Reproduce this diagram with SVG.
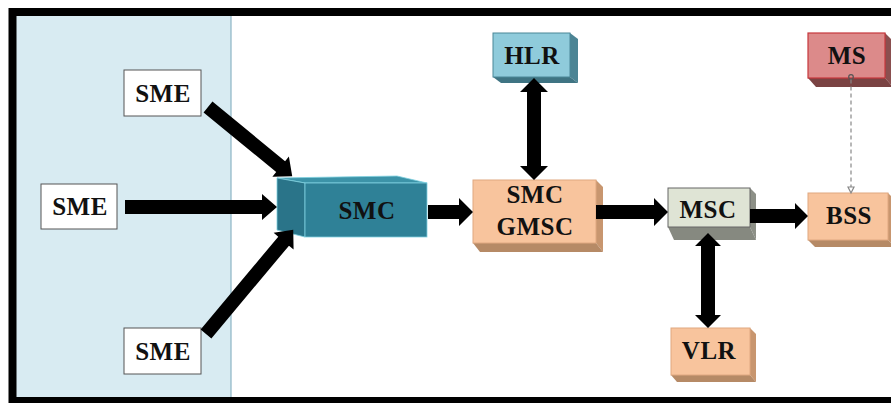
<svg xmlns="http://www.w3.org/2000/svg" width="891" height="403" viewBox="0 0 891 403" font-family="'Liberation Serif', 'DejaVu Serif', serif">
  <style>
    .lbl { font-family: 'Liberation Serif', 'DejaVu Serif', serif; font-weight: 700; font-size: 25px; fill: #111; text-anchor: middle; letter-spacing: 0.5px; }
    .sme { fill: #ffffff; stroke: #555; stroke-width: 1; }
    .peach { fill: #f8c49d; stroke: #e0a880; stroke-width: 1; }
    .peach-side { fill: #c8966f; }
    .peach-bot { fill: #b68a66; }
    .arrow { fill: #000; }
  </style>

  <!-- page background and frame -->
  <rect x="0" y="0" width="891" height="403" fill="#ffffff"/>
  <rect x="16" y="16" width="215" height="381" fill="#d8ebf2"/>
  <line x1="231" y1="16" x2="231" y2="397" stroke="#8cb4c4" stroke-width="1.2"/>
  <rect x="12.5" y="12" width="900" height="389" fill="none" stroke="#000" stroke-width="8"/>

  <!-- short-message entities -->
  <g id="sme-top">
    <rect class="sme" x="124" y="70" width="77" height="46"/>
    <text class="lbl" x="163" y="102">SME</text>
  </g>
  <g id="sme-mid">
    <rect class="sme" x="41" y="184" width="76" height="45"/>
    <text class="lbl" x="80" y="215">SME</text>
  </g>
  <g id="sme-bottom">
    <rect class="sme" x="124" y="328" width="77" height="46"/>
    <text class="lbl" x="163" y="360">SME</text>
  </g>

  <!-- service centre block -->
  <g id="smc">
    <polygon points="277,178 397,176 427,183 305,183" fill="#3c93a8" stroke="#7fd0e0" stroke-width="0.8"/>
    <polygon points="277,178 305,183 305,237 277,230" fill="#2a7489" stroke="#7fd0e0" stroke-width="0.8"/>
    <rect x="305" y="183" width="122" height="54" fill="#2f8197" stroke="#7fd0e0" stroke-width="0.8"/>
    <text class="lbl" x="367" y="219">SMC</text>
  </g>

  <!-- gateway -->
  <g id="smc-gmsc">
    <polygon class="peach-side" points="596,180 603,187 603,252 596,243"/>
    <polygon class="peach-bot" points="473,243 596,243 603,252 480,252"/>
    <rect class="peach" x="473" y="180" width="123" height="63"/>
    <text class="lbl" x="535" y="203">SMC</text>
    <text class="lbl" x="535" y="235">GMSC</text>
  </g>

  <!-- home location register -->
  <g id="hlr">
    <polygon points="570,33 578,39 578,83 570,77" fill="#4c8494"/>
    <polygon points="493,77 570,77 578,83 501,83" fill="#3f7483"/>
    <rect x="493" y="33" width="77" height="44" fill="#8fcbdb" stroke="#4b8798" stroke-width="1"/>
    <text class="lbl" x="532" y="64">HLR</text>
  </g>

  <!-- mobile switching centre -->
  <g id="msc">
    <polygon points="750,188 756,194 756,240 750,227" fill="#8d9087"/>
    <polygon points="668,227 750,227 756,240 674,240" fill="#868980"/>
    <rect x="668" y="188" width="82" height="39" fill="#dfe4d5" stroke="#666" stroke-width="1"/>
    <text class="lbl" x="708" y="218">MSC</text>
  </g>

  <!-- base station subsystem -->
  <g id="bss">
    <polygon class="peach-side" points="888,193 895,200 895,247 888,240"/>
    <polygon class="peach-bot" points="808,240 888,240 895,247 815,247"/>
    <rect class="peach" x="808" y="193" width="80" height="47"/>
    <text class="lbl" x="849" y="224">BSS</text>
  </g>

  <!-- mobile station -->
  <g id="ms">
    <polygon points="885,33 893,41 893,87 885,78" fill="#8a4f4f"/>
    <polygon points="808,78 885,78 893,87 816,87" fill="#7a4343"/>
    <rect x="808" y="33" width="77" height="45" fill="#dc8a8a" stroke="#c6383c" stroke-width="1.2"/>
    <text class="lbl" x="847" y="64">MS</text>
  </g>

  <!-- visitor location register -->
  <g id="vlr">
    <polygon class="peach-side" points="750,328 756,334 756,382 750,375"/>
    <polygon class="peach-bot" points="671,375 750,375 756,382 677,382"/>
    <rect class="peach" x="671" y="328" width="79" height="47"/>
    <text class="lbl" x="709" y="359">VLR</text>
  </g>

  <!-- connectors -->
  <g id="connectors">
    <path class="arrow" transform="translate(208,107) rotate(39.4)" d="M0,-7 H94 V-13 L109,0 L94,13 V7 H0 Z"/>
    <path class="arrow" d="M125,200 H262 V194 L277,207 L262,220 V214 H125 Z"/>
    <path class="arrow" transform="translate(206,334) rotate(-50.1)" d="M0,-7 H121 V-13 L136,0 L121,13 V7 H0 Z"/>
    <path class="arrow" d="M428,205 H459 V198 L473,212 L459,226 V219 H428 Z"/>
    <path class="arrow" d="M596,205 H654 V198 L668,212 L654,226 V219 H596 Z"/>
    <path class="arrow" d="M750,209 H795 V203 L808,216 L795,229 V223 H750 Z"/>
    <path class="arrow" d="M527,92 H520 L534,78 L548,92 H541 V166 H548 L534,180 L520,166 H527 Z"/>
    <path class="arrow" d="M701,246 H695 L708,233 L721,246 H715 V315 H721 L708,328 L695,315 H701 Z"/>
    <g id="ms-bss" stroke="#888" stroke-width="1.2" fill="none">
      <circle cx="851" cy="77" r="2.3" stroke="#555"/>
      <line x1="851" y1="79.5" x2="851" y2="188" stroke-dasharray="4 3"/>
      <polygon points="848,187 854,187 851,193" fill="#fff"/>
    </g>
  </g>
</svg>
